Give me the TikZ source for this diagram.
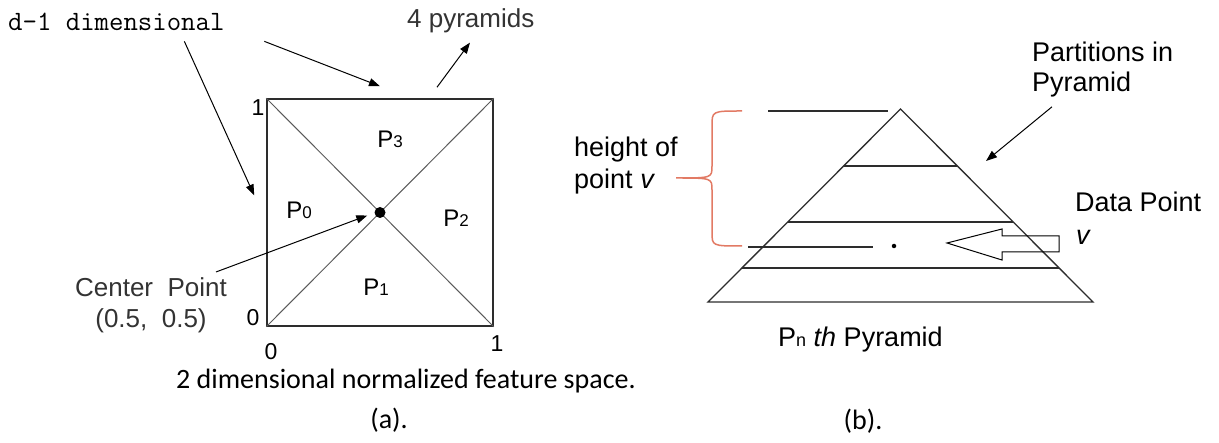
\documentclass[tikz,border=0pt]{standalone}
\usepackage{fontspec}
\setmainfont{Liberation Sans}
\newfontfamily\calibfont{Carlito}
\usepackage{tikz}
\usetikzlibrary{positioning,arrows.meta,calc}
\usepackage{xcolor}
\definecolor{bracered}{RGB}{226,122,100}
\definecolor{edgegray}{RGB}{45,45,45}
\definecolor{diaggray}{RGB}{90,90,90}
\newcommand{\Plab}[1]{{\fontsize{24}{24}\selectfont P}{\fontsize{17}{17}\selectfont #1}}

\begin{document}
\begin{tikzpicture}[x=1pt,y=-1pt,
  txt/.style={inner sep=0pt,font=\fontsize{27}{30}\selectfont},
  lite/.style={inner sep=0pt,text=black!80,font=\fontsize{26}{30}\selectfont},
  mono/.style={inner sep=0pt,font=\fontsize{28}{30}\selectfont\ttfamily},
  calib/.style={inner sep=0pt,font=\fontsize{28}{30}\selectfont\calibfont},
  tick/.style={inner sep=0pt,font=\fontsize{23}{23}\selectfont},
  arr/.style={-{Triangle[length=11pt,width=8pt]},line width=1pt},
  pyr/.style={line width=1.3pt,edgegray}
]
\useasboundingbox (0,0) rectangle (1219,443);

% (a) feature space
\node[draw=edgegray,line width=1.5pt,minimum width=226pt,minimum height=227pt,inner sep=0pt] (sq) at (380,212.5) {};
\draw[diaggray,line width=1pt] (sq.north west) -- (sq.south east);
\draw[diaggray,line width=1pt] (sq.south west) -- (sq.north east);
\node[circle,fill,inner sep=0pt,minimum size=11pt] (ctr) at (sq.center) {};
\node (p3) at (390,139) {\Plab{3}};
\node (p0) at (299,210) {\Plab{0}};
\node (p2) at (456,218) {\Plab{2}};
\node (p1) at (376,287) {\Plab{1}};
\node[tick] (ytop) at (258,108) {1};
\node[tick] (yzero) at (253,318) {0};
\node[tick] (xzero) at (271,352) {0};
\node[tick] (xone) at (497,344) {1};

\node[mono,anchor=base west] (dim) at (8,31) {d-1 dimensional};
\node[lite,anchor=base west] (four) at (407,28) {4 pyramids};
\node[lite,anchor=base] (cp) at (151,297) {Center\ \ Point};
\node[lite,anchor=base] (cpval) at (151,328) {(0.5,\ \ 0.5)};
\node[calib,anchor=base west] (feat) at (176,389) {2 dimensional normalized feature space.};
\node[calib,anchor=base] (capa) at (389,429) {(a).};

\draw[arr] ([xshift=68pt,yshift=-10pt]dim.south) -- ([xshift=-12pt,yshift=17pt]sq.west);
\draw[arr] ([xshift=148pt,yshift=-10pt]dim.south) -- ([yshift=12pt]sq.north);
\draw[arr] ([xshift=57pt,yshift=11pt]sq.north) -- ([xshift=63pt,yshift=-9pt]four.south west);
\draw[arr] ([xshift=-11pt,yshift=6pt]cp.north east) -- ([xshift=-7pt,yshift=-3pt]ctr.west);

% (b) one pyramid
\coordinate (apex) at (900.5,109);
\coordinate (bl) at (708,302);
\coordinate (br) at (1093,302);
\draw[pyr] (bl) -- (apex) -- (br) -- cycle;
\draw[pyr] ($(apex)!.295!(bl)$) -- ($(apex)!.295!(br)$);
\draw[pyr] ($(apex)!.585!(bl)$) -- ($(apex)!.585!(br)$);
\draw[pyr] ($(apex)!.824!(bl)$) -- ($(apex)!.824!(br)$);
\draw[pyr] (768,111) -- (888,111);
\draw[pyr] (748,247) -- (873,247);
\node[circle,fill,inner sep=0pt,minimum size=4.5pt] (dp) at (894,246) {};
\draw[line width=1pt] (947,243) -- (1002,229) -- (1002,236) -- (1059,236)
  -- (1059,252) -- (1002,252) -- (1002,260) -- cycle;
\draw[bracered,line width=1.5pt] (742,111) .. controls (712,111) .. (712,126) -- (712,166)
  .. controls (712,178) .. (676,178) .. controls (712,178) .. (712,190) -- (712,232)
  .. controls (712,246) .. (742,246);

\node[txt,anchor=base west] (hgt) at (574,157) {height of};
\node[txt,anchor=base west] (hgt2) at (574,189) {point \textit{v}};
\node[txt,anchor=base west] (part) at (1032,62) {Partitions in};
\node[txt,anchor=base west] (part2) at (1032,92) {Pyramid};
\node[txt,anchor=base west] (data) at (1075,212) {Data Point};
\node[txt,anchor=base west] (datav) at (1076,245) {\textit{v}};
\node[txt,anchor=base west] (pn) at (778,347) {P{\fontsize{18}{18}\selectfont n} \textit{th} Pyramid};
\node[calib,anchor=base] (capb) at (863,430) {(b).};

\coordinate (prt) at (986,161);
\draw[arr] ([xshift=20pt,yshift=-9pt]part2.south west) -- (prt);
\end{tikzpicture}
\end{document}
